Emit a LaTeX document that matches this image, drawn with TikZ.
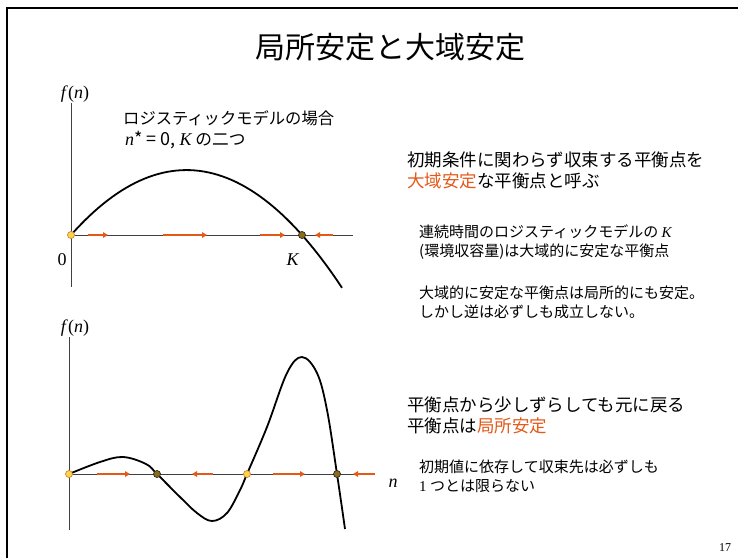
\documentclass[tikz,border=0pt]{standalone}
\usepackage{fontspec}
\setmainfont{Liberation Serif}
\newfontfamily\jp{Noto Sans CJK JP}
\usetikzlibrary{arrows.meta}
\definecolor{orng}{RGB}{228,88,24}
\definecolor{unstfill}{RGB}{250,214,80}
\definecolor{unstline}{RGB}{210,130,40}
\definecolor{stabfill}{RGB}{140,108,20}
\newcommand{\vn}[1]{{\rmfamily\itshape #1}}
\tikzset{
  axis/.style={black!75,line width=0.9pt},
  curve/.style={black,line width=1.8pt,line join=round},
  flow/.style={orng,line width=1.8pt,-{Triangle[length=5pt,width=5.5pt]}},
  unst/.style={circle,draw=unstline,fill=unstfill,line width=0.7pt,inner sep=0pt,minimum size=7pt},
  stab/.style={circle,draw=black!85,fill=stabfill,line width=0.7pt,inner sep=0pt,minimum size=7pt},
  lab/.style={font=\fontsize{18}{20}\selectfont,inner sep=0pt},
  bigtext/.style={font=\jp\fontsize{17.5}{21}\selectfont,align=left,anchor=west,inner sep=0pt},
  smalltext/.style={font=\jp\fontsize{15}{19.5}\selectfont,align=left,anchor=west,inner sep=0pt}
}
\begin{document}
\begin{tikzpicture}[x=1pt,y=-1pt]
    \useasboundingbox (0,0) rectangle (738,557);
    % slide frame and title
    \draw[line width=1.8pt] (7,570) -- (7,8) -- (750,8);
    \node[font=\jp\fontsize{30}{34}\selectfont] (title) at (390,47) {局所安定と大域安定};
    % upper plot: logistic model
    \draw[axis] (71,103) -- (71,287);
    \draw[axis] (71,235) -- (353,235);
    \draw[curve] plot[domain=71:342,samples=60] (\x,{235-0.00487*(\x-71)*(302-\x)});
    % flow on the upper axis
    \draw[flow] (88,235) -- (108,235);
    \draw[flow] (163,235) -- (207,235);
    \draw[flow] (260,235) -- (285,235);
    \draw[flow] (333,235) -- (315,235);
    \node[unst] (zeroA) at (71,235) {};
    \node[stab] (kayA) at (302,235) {};
    \node[lab] (fnA) at (75,94) {\textit{f}(\textit{n})};
    \node[lab] (zero) at (62,260) {0};
    \node[lab] (kay) at (293,260) {\textit{K}};
    \node[font=\jp\fontsize{16.3}{20}\selectfont,anchor=west,inner sep=0pt] (logi) at (123,118) {ロジスティックモデルの場合};
    \node[font=\jp\fontsize{16.7}{20}\selectfont,anchor=west,inner sep=0pt] (nstar) at (125,140) {{\fontsize{18}{20}\selectfont\vn{n}* = 0, \vn{K}} の二つ};
    % lower plot: several equilibria
    \draw[axis] (69,337) -- (69,530);
    \draw[axis] (66,474) -- (372,474);
    \draw[curve] plot[smooth,tension=0.6] coordinates {(69,474) (100,462) (123,457) (146,464) (157,474)
        (180,497) (197,513) (212,521) (227,513) (240,490) (247,474) (267,427) (287,373) (302,357)
        (317,373) (327,410) (337,474) (345,529)};
    % flow on the lower axis
    \draw[flow] (97,474) -- (130,474);
    \draw[flow] (213,474) -- (192,474);
    \draw[flow] (273,474) -- (305,474);
    \draw[flow] (375,474) -- (353,474);
    \node[unst] (eqA) at (69,474) {};
    \node[stab] (eqB) at (157,474) {};
    \node[unst] (eqC) at (247,474) {};
    \node[stab] (eqD) at (337,474) {};
    \node[lab] (fnB) at (75,328) {\textit{f}(\textit{n})};
    \node[lab] (enn) at (393,483) {\textit{n}};
    % explanations
    \node[bigtext] (glob) at (407,170.5) {初期条件に関わらず収束する平衡点を\\{\color{orng}大域安定}な平衡点と呼ぶ};
    \node[smalltext] (logk) at (419,242) {連続時間のロジスティックモデルの \vn{K}\\(環境収容量)は大域的に安定な平衡点};
    \node[smalltext] (conv) at (419,302.5) {大域的に安定な平衡点は局所的にも安定。\\しかし逆は必ずしも成立しない。};
    \node[bigtext] (loc) at (407,415) {平衡点から少しずらしても元に戻る\\平衡点は{\color{orng}局所安定}};
    \node[smalltext] (init) at (419,476.5) {初期値に依存して収束先は必ずしも\\{\rmfamily 1} つとは限らない};
    \node[font=\fontsize{12}{13}\selectfont] (page) at (725,548) {17};
\end{tikzpicture}
\end{document}
